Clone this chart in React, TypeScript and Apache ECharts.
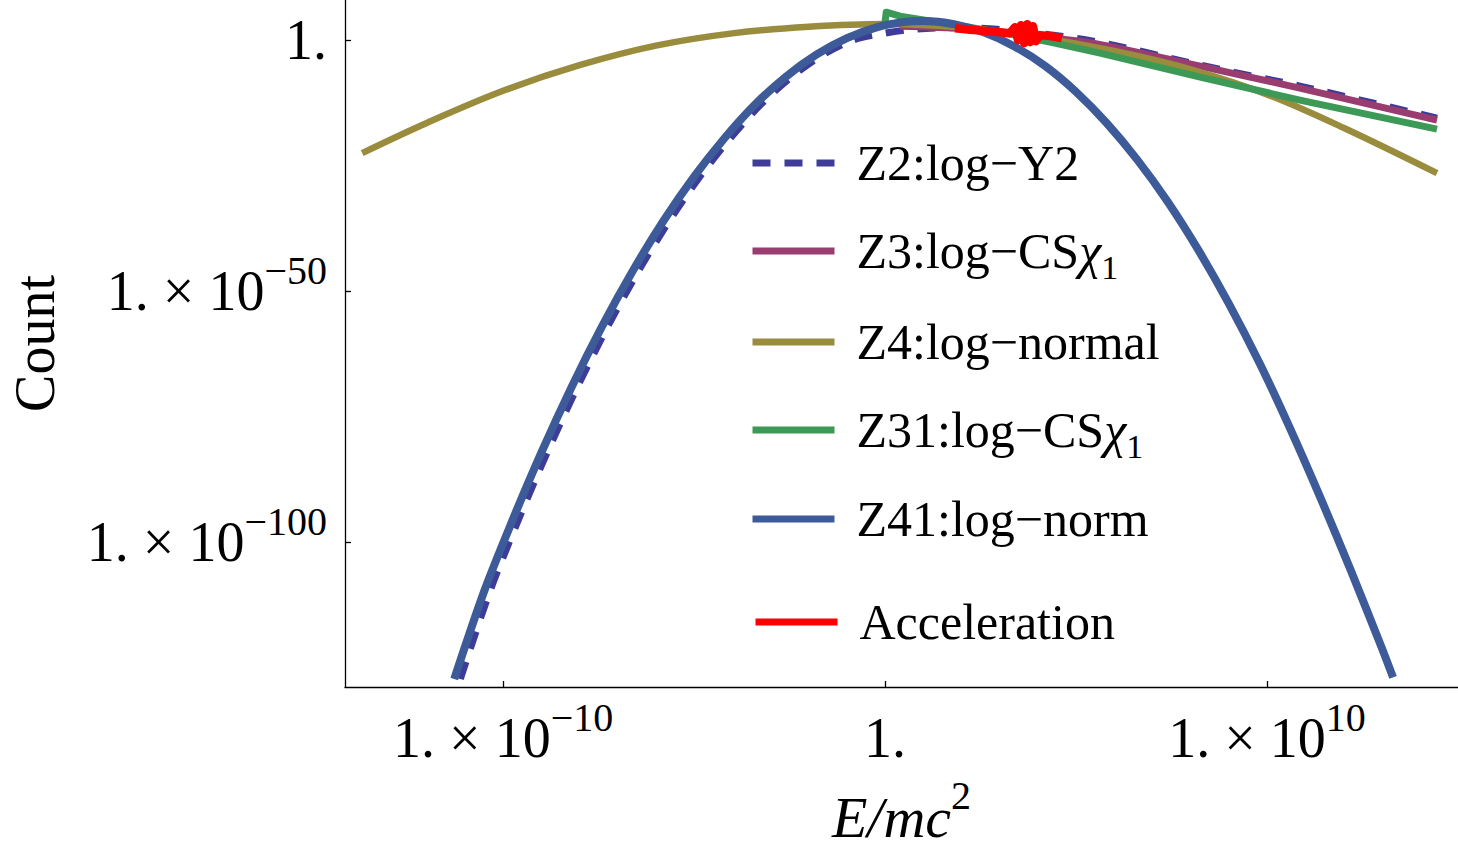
import React, { useEffect, useRef } from "react";
import * as echarts from "echarts";

// All values are log10 exponents.
// x = log10(E/mc^2), y = log10(Count)

const Z2_X = [-11.12, -10.35, -9.65, -8.85, -8.05, -7.25, -6.45, -5.65, -4.85, -4.05, -3.25, -2.45, -1.65, -0.85, 0.0, 0.8, 1.6, 2.93, 5.45, 8.25, 10.86, 14.45];
const Z2_Y = [-127.3, -109.9, -96.5, -82.2, -69.0, -56.9, -45.9, -36.0, -27.2, -19.5, -12.8, -7.3, -3.0, 0.0, 1.4, 2.2, 2.45, 2.19, -0.2, -4.98, -9.16, -15.54];

const Z3_X = [0.39, 1.96, 3.01, 5.45, 8.25, 10.86, 14.45];
const Z3_Y = [2.79, 2.39, 1.59, -0.6, -5.18, -9.56, -15.94];

const Z4_X = [-13.69, -12.0, -10.0, -8.0, -6.0, -4.0, -2.0, 0.0, 2.0, 4.0, 6.0, 8.0, 10.0, 12.0, 14.45];
const Z4_Y = [-22.5, -16.5, -10.1, -5.0, -1.1, 1.35, 2.65, 3.2, 2.5, 0.6, -2.15, -5.8, -10.8, -17.45, -26.5];

const Z31_X = [0.0, 0.03, 0.39, 1.70, 3.01, 4.32, 5.63, 8.25, 10.86, 14.45];
const Z31_Y = [3.59, 5.58, 4.78, 3.19, 1.59, -0.4, -2.59, -7.37, -11.95, -17.73];

const Z41_X = [-11.28, -10.5, -9.8, -9.0, -8.2, -7.4, -6.6, -5.8, -5.0, -4.2, -3.4, -2.6, -1.8, -1.0, -0.2, 0.5, 1.0, 1.8, 2.6, 3.4, 4.2, 5.0, 5.8, 6.6, 7.4, 8.2, 9.0, 9.8, 10.6, 11.4, 12.2, 13.0, 13.3];
const Z41_Y = [-127.3, -109.9, -96.5, -82.2, -69.0, -56.9, -45.9, -36.0, -27.2, -19.5, -12.8, -7.3, -2.9, 0.4, 2.6, 3.6, 3.8, 3.2, 1.5, -1.3, -5.2, -10.3, -16.5, -23.8, -32.2, -41.8, -52.5, -64.3, -77.3, -91.2, -105.8, -121.0, -127.0];

const ACC_X = [1.83, 2.23, 2.75, 3.01, 3.27, 3.40, 3.48, 3.56, 3.64, 3.72, 3.80, 3.87, 3.95, 4.06, 4.32, 4.63];
const ACC_Y = [2.39, 2.09, 1.79, 1.59, 1.39, 2.59, 0.0, 2.99, -0.6, 3.19, -0.4, 2.79, -0.2, 1.0, 0.8, 0.4];

const X_TICKS = [-10, 0, 10];
const Y_TICKS = [-100, -50, 0];

const SERIES_NAMES = ["Z2:log−Y2", "Z3:log−CSχ1", "Z4:log−normal", "Z31:log−CSχ1", "Z41:log−norm", "Acceleration"];
const SERIES_COLORS = ["#3d3d99", "#993d71", "#998c3d", "#3d9956", "#3d5a99", "#ff0000"];
const LEGEND_CENTERS = [162, 250, 341, 429, 518, 621];

const FONT = "'Liberation Serif', 'Times New Roman', serif";

function pairs(xs: number[], ys: number[]) {
  return xs.map((x, i) => [x, ys[i]]);
}

function tickFmt(v: number) {
  if (v === 0) return "{m|1.}";
  const e = (v < 0 ? "\u2212" : "") + Math.abs(v);
  return "{m|1. × 10}{s|" + e + "}";
}

const tickRich = {
  m: { fontFamily: FONT, fontSize: 56, lineHeight: 60, color: "#000" },
  s: { fontFamily: FONT, fontSize: 40, lineHeight: 60, height: 19, verticalAlign: "top", color: "#000" },
};

function legendFmt(name: string) {
  if (name.indexOf("χ1") >= 0) {
    const base = name.replace("χ1", "");
    return "{g| }{n|" + base + "}{c|χ}{b|1}";
  }
  return "{g| }{n|" + name + "}";
}

const legendRich = {
  g: { width: 17, fontSize: 10 },
  n: { fontFamily: FONT, fontSize: 50, lineHeight: 60, color: "#000" },
  c: { fontFamily: FONT, fontSize: 50, fontStyle: "italic", lineHeight: 60, color: "#000" },
  b: { fontFamily: FONT, fontSize: 34, lineHeight: 60, height: 27, verticalAlign: "bottom", color: "#000" },
};

export default function App() {
  const ref = useRef<HTMLDivElement>(null);

  useEffect(() => {
    if (!ref.current) return;
    const chart = echarts.init(ref.current, undefined, { renderer: "svg" });

    const datasets = [
      pairs(Z2_X, Z2_Y),
      pairs(Z3_X, Z3_Y),
      pairs(Z4_X, Z4_Y),
      pairs(Z31_X, Z31_Y),
      pairs(Z41_X, Z41_Y),
      pairs(ACC_X, ACC_Y),
    ];
    const widths = [7, 7, 6.5, 7, 8, 8.5];
    const smooths: (number | boolean)[] = [0.3, 0.2, 0.35, false, 0.3, false];

    const series = datasets.map((d, i) => ({
      type: "line",
      name: SERIES_NAMES[i],
      data: d,
      symbol: "none",
      showSymbol: false,
      smooth: smooths[i],
      color: SERIES_COLORS[i],
      silent: true,
      lineStyle: {
        color: SERIES_COLORS[i],
        width: widths[i],
        type: i === 0 ? [18, 14] : "solid",
        cap: "butt",
        join: "round",
      },
    }));

    const legends = SERIES_NAMES.map((name, i) => ({
      data: [name],
      orient: "vertical",
      left: i === 5 ? 752 : 749,
      top: LEGEND_CENTERS[i] - 24,
      padding: 0,
      itemWidth: 82,
      itemHeight: 14,
      itemGap: 0,
      selectedMode: false,
      itemStyle: { opacity: 0 },
      lineStyle: { width: 7 },
      formatter: legendFmt,
      textStyle: { rich: legendRich, fontFamily: FONT, fontSize: 50, color: "#000" },
    }));

    chart.setOption({
      animation: false,
      backgroundColor: "#ffffff",
      textStyle: { fontFamily: FONT },
      grid: { left: 345, right: 0, top: 0, bottom: 164, containLabel: false, outerBoundsMode: "none" },
      legend: legends,
      xAxis: {
        type: "value",
        min: -14.14,
        max: 15.0,
        name: "{i|E/mc}{s|2}",
        nameLocation: "middle",
        nameGap: 100,
        nameTextStyle: {
          rich: {
            i: { fontFamily: FONT, fontSize: 58, fontStyle: "italic", lineHeight: 60, color: "#000" },
            s: { fontFamily: FONT, fontSize: 40, lineHeight: 60, height: 17, verticalAlign: "top", color: "#000" },
          },
        },
        axisLine: { show: true, onZero: false, lineStyle: { color: "#000", width: 1.3 } },
        axisTick: { show: true, inside: true, length: 6, customValues: X_TICKS, lineStyle: { color: "#000", width: 1.3 } },
        axisLabel: { show: true, margin: 21, customValues: X_TICKS, formatter: tickFmt, rich: tickRich },
        splitLine: { show: false },
      },
      yAxis: {
        type: "value",
        min: -128.9,
        max: 8,
        name: "Count",
        nameLocation: "middle",
        nameRotate: 90,
        nameGap: 282,
        nameTextStyle: { fontFamily: FONT, fontSize: 56, color: "#000" },
        axisLine: { show: true, onZero: false, lineStyle: { color: "#000", width: 1.3 } },
        axisTick: { show: true, inside: true, length: 6, customValues: Y_TICKS, lineStyle: { color: "#000", width: 1.3 } },
        axisLabel: { show: true, margin: 18, customValues: Y_TICKS, formatter: tickFmt, rich: tickRich },
        splitLine: { show: false },
      },
      series,
    });

    return () => {
      chart.dispose();
    };
  }, []);

  return (
    <div
      ref={ref}
      style={{ position: "absolute", left: 0, top: 0, width: 1458, height: 851, background: "#fff" }}
    />
  );
}
